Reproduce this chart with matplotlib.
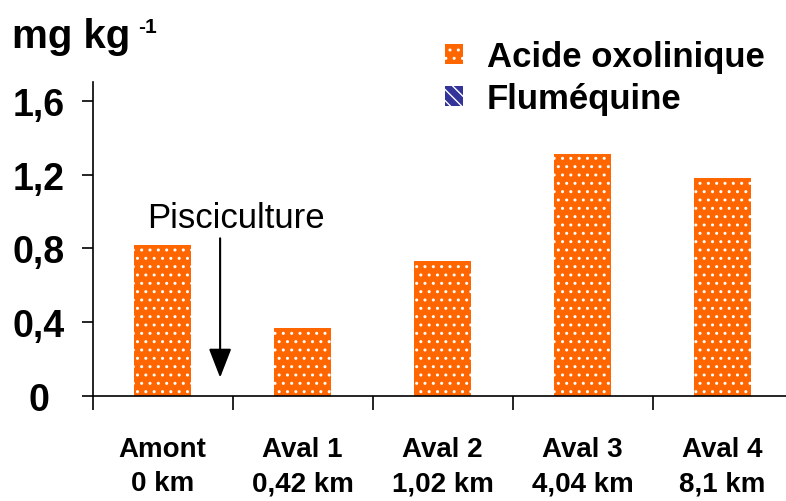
import matplotlib
matplotlib.use("Agg")
import matplotlib.pyplot as plt
import numpy as np
from matplotlib.patches import Patch

# données
sites = ["Amont\n0 km", "Aval 1\n0,42 km", "Aval 2\n1,02 km", "Aval 3\n4,04 km", "Aval 4\n8,1 km"]
acide_oxolinique = [0.82, 0.37, 0.73, 1.31, 1.18]
flumequine = [0, 0, 0, 0, 0]
yticks = [0, 0.4, 0.8, 1.2, 1.6]
ytick_labels = ["0", "0,4", "0,8", "1,2", "1,6"]

plt.rcParams["font.family"] = ["Liberation Sans", "DejaVu Sans"]
plt.rcParams["hatch.linewidth"] = 1.0

fig = plt.figure(figsize=(7.86, 5.02), dpi=100)
ax = fig.add_axes([0.118, 0.209, 0.885, 0.625])

x = np.arange(len(sites))
ax.bar(x, acide_oxolinique, width=0.41, color="#FF6600", edgecolor="white",
       linewidth=0, hatch="..")

ax.set_xlim(-0.5, 4.47)
ax.set_ylim(0, 1.7)
for s in ["top", "right"]:
    ax.spines[s].set_visible(False)
ax.spines["left"].set_linewidth(1.2)
ax.spines["bottom"].set_linewidth(1.2)

ax.set_yticks(yticks)
ax.set_yticklabels(ytick_labels, fontsize=27, fontweight="bold")
ax.tick_params(axis="y", length=8, width=1.2, pad=31)
for lab in ax.get_yticklabels():
    lab.set_ha("center")

ax.set_xticks(x)
ax.set_xticklabels(sites, fontsize=20, fontweight="bold", linespacing=1.4)
ax.tick_params(axis="x", which="major", length=0, pad=29)
ax.set_xticks(np.arange(-0.5, 4.5, 1), minor=True)
ax.tick_params(axis="x", which="minor", length=10, width=1.2)

# flèche pisciculture
ax.annotate("", xy=(0.41, 0.085), xytext=(0.41, 0.87),
            arrowprops=dict(arrowstyle="-|>,head_width=0.35,head_length=0.9",
                            mutation_scale=20, color="black", lw=1.5))
ax.text(0.52, 0.916, "Pisciculture", fontsize=25, ha="center", va="baseline")

fig.text(0.015, 0.905, "mg kg", fontsize=29, fontweight="bold")
fig.text(0.176, 0.935, "-1", fontsize=15, fontweight="bold")

handles = [Patch(facecolor="#FF6600", edgecolor="white", hatch="..", linewidth=0),
           Patch(facecolor="#333399", edgecolor="white", hatch="\\\\\\", linewidth=0)]
leg = fig.legend(handles, ["Acide oxolinique", "Fluméquine"], loc="upper left",
                 bbox_to_anchor=(0.526, 0.98), frameon=False, handlelength=0.52,
                 handleheight=0.52, handletextpad=0.69, labelspacing=0.25,
                 prop={"size": 25, "weight": "bold"})

fig.savefig("out.png", dpi=100)
